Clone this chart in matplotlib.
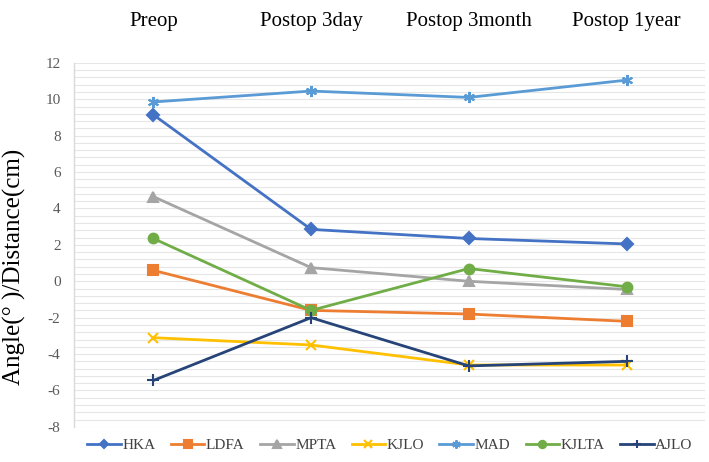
import matplotlib
matplotlib.use("Agg")
import matplotlib.pyplot as plt
import numpy as np

categories = ["Preop", "Postop 3day", "Postop 3month", "Postop 1year"]
series_names = ["HKA", "LDFA", "MPTA", "KJLO", "MAD", "KJLTA", "AJLO"]
hka = [9.15, 2.85, 2.35, 2.05]
ldfa = [0.6, -1.6, -1.8, -2.2]
mpta = [4.65, 0.75, 0.0, -0.45]
kjlo = [-3.1, -3.5, -4.6, -4.6]
mad = [9.85, 10.45, 10.1, 11.05]
kjlta = [2.35, -1.6, 0.7, -0.3]
ajlo = [-5.45, -2.0, -4.65, -4.4]
yticks = [-8, -6, -4, -2, 0, 2, 4, 6, 8, 10, 12]

values = [hka, ldfa, mpta, kjlo, mad, kjlta, ajlo]
colors = ["#4472C4", "#ED7D31", "#A5A5A5", "#FFC000", "#5B9BD5", "#70AD47", "#264478"]
markers = ["D", "s", "^", "x", (6, 2, 0), "o", "+"]
msizes = [6, 7, 7, 7, 8, 7, 8]

serif = ["Liberation Serif", "DejaVu Serif"]

fig = plt.figure(figsize=(7.09, 4.62), dpi=100)
ax = fig.add_axes([0.105, 0.076, 0.89, 0.788])

x = np.arange(len(categories))
for name, vals, c, m, ms in zip(series_names, values, colors, markers, msizes):
    ax.plot(x, vals, color=c, lw=2.0, marker=m, ms=ms, mew=1.5,
            markerfacecolor=c, markeredgecolor=c, label=name, zorder=3)

ax.set_xlim(-0.5, len(categories) - 0.5)
ax.set_ylim(-8, 12)
ax.set_yticks(yticks)
ax.set_yticklabels([str(t) for t in yticks], fontfamily=serif, fontsize=11, color="#595959")
ax.set_yticks(np.arange(-8, 12.01, 0.4), minor=True)
ax.grid(True, which="both", axis="y", color="#E6E6E6", lw=0.8, zorder=0)
ax.tick_params(axis="y", which="both", length=0, pad=10)

ax.xaxis.tick_top()
ax.set_xticks(x)
ax.set_xticklabels(categories, fontfamily=serif, fontsize=15, color="black")
ax.tick_params(axis="x", length=0, pad=23)

for s in ["top", "right", "bottom"]:
    ax.spines[s].set_visible(False)
ax.spines["left"].set_color("#D9D9D9")
ax.spines["left"].set_linewidth(1.0)

ax.set_ylabel("Angle(° )/Distance(cm)", fontfamily=serif, fontsize=18, color="black")
ax.yaxis.set_label_coords(-0.077, 0.44)

leg = fig.legend(loc="lower center", bbox_to_anchor=(0.55, -0.008), ncol=7, frameon=False,
                 prop={"family": serif, "size": 11}, handlelength=2.2, columnspacing=1.0,
                 handletextpad=0.1, markerscale=0.75)
for t in leg.get_texts():
    t.set_color("#404040")

fig.savefig("out.png", dpi=100)
